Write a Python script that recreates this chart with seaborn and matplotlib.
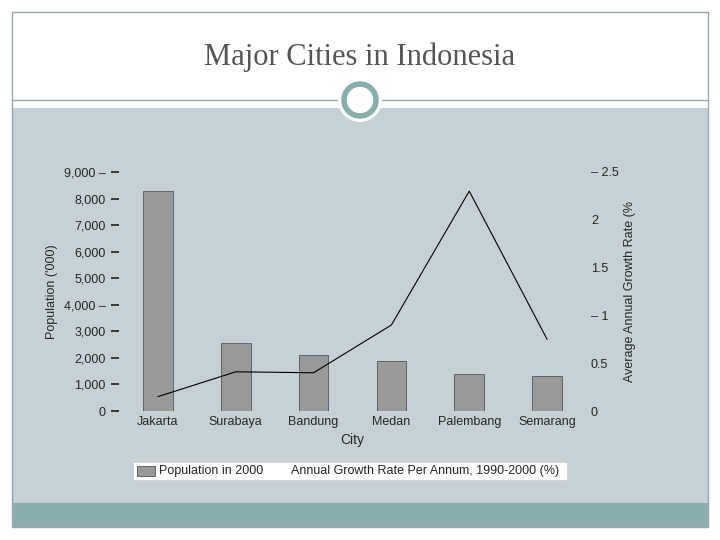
import matplotlib
matplotlib.use("Agg")
import matplotlib.pyplot as plt
import seaborn as sns
import pandas as pd
from matplotlib.patches import Rectangle, Ellipse
from matplotlib.lines import Line2D

cities = ["Jakarta", "Surabaya", "Bandung", "Medan", "Palembang", "Semarang"]
population = [8300, 2550, 2100, 1900, 1400, 1330]
growth = [0.15, 0.41, 0.40, 0.90, 2.30, 0.75]
left_ticks = [0, 1000, 2000, 3000, 4000, 5000, 6000, 7000, 8000, 9000]
left_labels = ["0", "1,000", "2,000", "3,000", "4,000 \u2013", "5,000", "6,000", "7,000", "8,000", "9,000 \u2013"]
right_ticks = [0, 0.5, 1, 1.5, 2, 2.5]
right_labels = ["0", "0.5", "\u2013 1", "1.5", "2", "\u2013 2.5"]

df = pd.DataFrame({"City": cities, "Population": population, "Growth": growth})

sns.set_theme(style="white")
plt.rcParams['font.family'] = ['Liberation Sans', 'DejaVu Sans']
fig = plt.figure(figsize=(7.2, 5.4), dpi=100)
W, H = 720, 540
def fx(x): return x / W
def fy(y): return 1 - y / H

def bg(patch, z=-10):
    patch.set_zorder(z)
    fig.patches.append(patch)

bg(Rectangle((fx(12), fy(527)), fx(696), (527-12)/H, transform=fig.transFigure,
             fill=False, ec="#9aa8ad", lw=1), -5)
bg(Rectangle((fx(12), fy(503)), fx(696), (503-108)/H, transform=fig.transFigure,
             fc="#c6d1d6", ec="none"))
bg(Rectangle((fx(12), fy(527)), fx(696), 24/H, transform=fig.transFigure,
             fc="#8aadae", ec="none"))
fig.lines.append(Line2D([fx(12), fx(708)], [fy(100), fy(100)], transform=fig.transFigure,
                        color="#9aa8ad", lw=1, zorder=-4))
bg(Ellipse((fx(360), fy(100)), 44/W, 44/H, transform=fig.transFigure, fc="white", ec="none"), -3)
bg(Ellipse((fx(360), fy(100)), 32/W, 32/H, transform=fig.transFigure, fc="white",
           ec="#8aadae", lw=4), -2)
fig.text(0.5, fy(57), "Major Cities in Indonesia", ha="center", va="center",
         fontsize=22, family=["Liberation Serif", "DejaVu Serif"], color="#555555")

ax = fig.add_axes([fx(119), fy(411), (586-119)/W, (411-172)/H])
ax.set_facecolor("none")
sns.barplot(data=df, x="City", y="Population", color="#999999", width=0.38, ax=ax,
            edgecolor="#555555", linewidth=0.6, saturation=1)
ax.set_ylim(0, 9000)
ax.set_xlim(-0.5, 5.5)
ax.set_yticks(left_ticks)
ax.set_yticklabels(left_labels, fontsize=9)
ax.set_ylabel("Population ('000)", fontsize=9)
ax.set_xlabel("City", fontsize=10)
ax.tick_params(axis="x", labelsize=9, length=0)
for s in ax.spines.values():
    s.set_visible(False)

ax2 = ax.twinx()
ax2.plot(range(len(cities)), growth, color="black", lw=0.8)
ax2.set_ylim(0, 2.5)
ax2.set_yticks(right_ticks)
ax2.set_yticklabels(right_labels, fontsize=9)
ax2.set_ylabel("Average Annual Growth Rate (%", fontsize=9)
ax2.tick_params(axis="y", length=0)
for s in ax2.spines.values():
    s.set_visible(False)

fig.patches.append(Rectangle((fx(133), fy(480)), (567-133)/W, 18/H, transform=fig.transFigure,
                             fc="white", ec="#cccccc", lw=0.5))
fig.patches.append(Rectangle((fx(137), fy(476)), 18/W, 10/H, transform=fig.transFigure,
                             fc="#999999", ec="#555555", lw=0.6))
fig.text(fx(159), fy(471), "Population in 2000", fontsize=9, va="center")
fig.text(fx(291), fy(471), "Annual Growth Rate Per Annum, 1990-2000 (%)", fontsize=9, va="center")

fig.savefig("out.png", dpi=100)
